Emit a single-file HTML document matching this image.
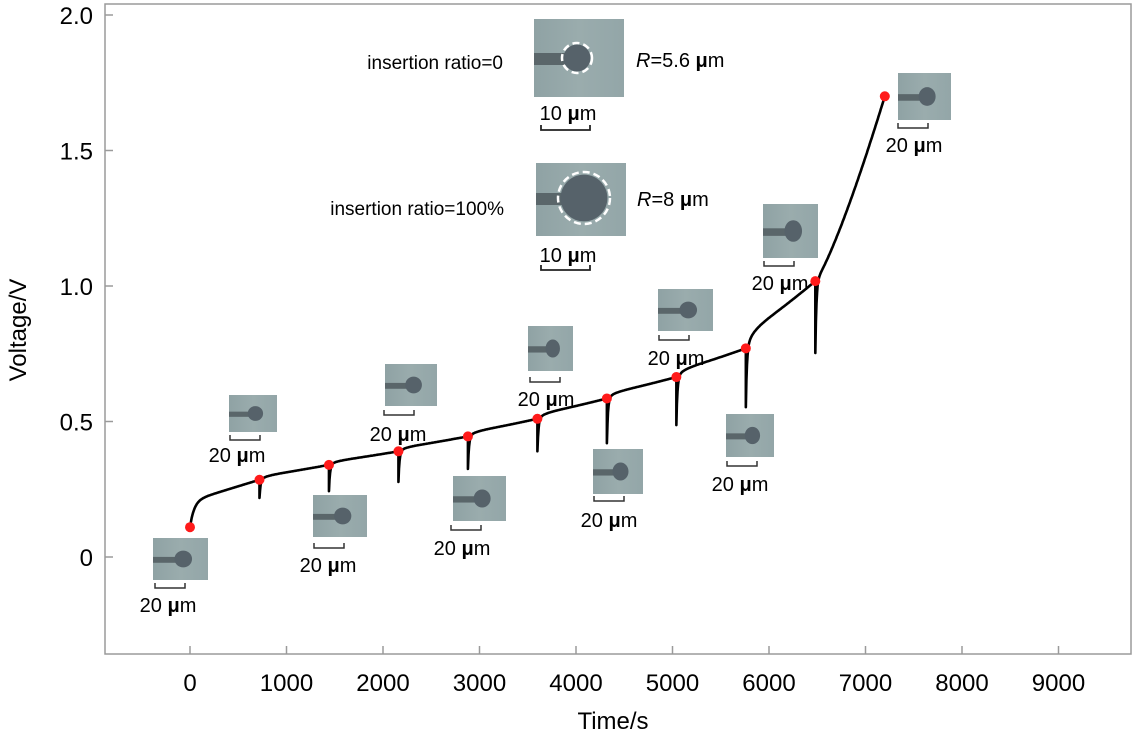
<!DOCTYPE html>
<html><head><meta charset="utf-8"><style>
html,body{margin:0;padding:0;background:#fff;}
svg{display:block;font-family:"Liberation Sans",sans-serif;}
</style></head><body>
<svg id="chart" width="1135" height="735" viewBox="0 0 1135 735">
<defs>
<linearGradient id="micro" x1="0" y1="0" x2="1" y2="0">
<stop offset="0" stop-color="#8fa2a4"/><stop offset="0.5" stop-color="#9aacad"/><stop offset="1" stop-color="#93a6a8"/>
</linearGradient>
</defs>
<rect x="105" y="4" width="1026" height="650" fill="none" stroke="#9a9a9a" stroke-width="1.5"/>
<g id="axes"></g>
<g id="images"></g>
<path id="curve" fill="none" stroke="#000" stroke-width="2.6" stroke-linejoin="round"/>
<g id="points"></g>
<text x="613" y="729" font-size="24" text-anchor="middle">Time/s</text>
<text transform="translate(26,330) rotate(-90)" font-size="24" text-anchor="middle">Voltage/V</text>
<text x="503" y="69" font-size="19" text-anchor="end">insertion ratio=0</text>
<text x="636" y="67" font-size="20"><tspan font-style="italic">R</tspan>=5.6 <tspan font-weight="bold">μ</tspan>m</text>
<text x="504" y="215" font-size="19" text-anchor="end">insertion ratio=100%</text>
<text x="637" y="206" font-size="20"><tspan font-style="italic">R</tspan>=8 <tspan font-weight="bold">μ</tspan>m</text>
</svg>
<script>
const xTicks=[0,1000,2000,3000,4000,5000,6000,7000,8000,9000];
const yTicks=[0,0.5,1.0,1.5,2.0];
const yTickLabels=["0","0.5","1.0","1.5","2.0"];
const pointTimes=[0,720,1440,2160,2880,3600,4320,5040,5760,6480,7200];
const pointVolts=[0.11,0.285,0.34,0.39,0.445,0.51,0.585,0.664,0.77,1.018,1.70];
const dipVolts=[0.218,0.243,0.277,0.325,0.39,0.42,0.487,0.553,0.753];
const NS="http://www.w3.org/2000/svg";
const X=t=>190+t*0.0965;
const Y=v=>557-v*271;
function mk(tag,attrs,parent){const e=document.createElementNS(NS,tag);for(const k in attrs)e.setAttribute(k,attrs[k]);parent.appendChild(e);return e;}
const axes=document.getElementById('axes');
xTicks.forEach((t,i)=>{
 const l=mk('line',{x1:X(t),x2:X(t),y1:654,y2:646,stroke:'#9a9a9a','stroke-width':1.5},axes);
 
 
 const tx=mk('text',{x:X(t),y:691,'font-size':24,'text-anchor':'middle'},axes);
 tx.textContent=t;
 
 
});
yTicks.forEach((v,i)=>{
 const l=mk('line',{x1:105,x2:113,y1:Y(v),y2:Y(v),stroke:'#9a9a9a','stroke-width':1.5},axes);
 
 
 const tx=mk('text',{x:93,y:Y(v)+9,'font-size':24,'text-anchor':'end'},axes);
 tx.textContent=yTickLabels[i];
 
 
});
let d='';
for(let s=0;s<pointTimes.length-1;s++){
 const t0=pointTimes[s],t1=pointTimes[s+1],a=pointVolts[s],b=pointVolts[s+1];
 const dip=s===0?null:dipVolts[s-1];
 if(s===0){d+='M'+X(t0)+','+Y(a);}
 else{d+='M'+X(t0)+','+Y(a)+'L'+X(t0)+','+Y(dip);}
 for(let k=1;k<=120;k++){
  const u=k/120;
  let f;
  if(s===0) f=0.55*(1-Math.exp(-u/0.06))+0.45*u;
  else if(s===pointTimes.length-2) f=0.75*Math.pow(u,1.3)+0.25*u;
  else f=0.25*(1-Math.exp(-u/0.1))+0.75*Math.pow(u,1.15);
  let v=a+(b-a)*f;
  if(dip!==null) v-=(a-dip)*Math.exp(-u/0.015);
  const xx=X(t0)+(X(t1)-X(t0))*u;
  d+='L'+xx.toFixed(1)+','+Y(v).toFixed(1);
 }
}
document.getElementById('curve').setAttribute('d',d);
const pts=document.getElementById('points');
pointTimes.forEach((t,i)=>{
 const c=mk('circle',{cx:X(t),cy:Y(pointVolts[i]),r:5,fill:'#ff1a1a'},pts);
 
 
});
const imgs=[[153,538,55,42,155,588,168,612],[229,395,48,37,230,440,237,462],[313,495,54,42,314,548,328,572],[385,364,52,42,384,415,398,441],[453,476,53,45,451,530,462,555],[528,326,45,45,530,382,546,406],[593,449,50,45,594,501,609,527],[658,289,55,42,659,340,676,365],[726,414,48,43,727,466,740,491],[763,204,55,54,764,266,780,290],[898,73,53,47,898,128,914,152]];
const ig=document.getElementById('images');
imgs.forEach(m=>{
 const g=mk('g',{},ig);
 
 
 mk('rect',{x:m[0],y:m[1],width:m[2],height:m[3],fill:'url(#micro)'},g);
 mk('rect',{x:m[0],y:m[1]+m[3]*0.45,width:m[2]*0.45,height:m[3]*0.14,fill:'#5a666a'},g);
 mk('ellipse',{cx:m[0]+m[2]*0.55,cy:m[1]+m[3]*0.5,rx:m[2]*0.16,ry:m[3]*0.2,fill:'#56626a'},g);
 mk('path',{d:`M${m[4]},${m[5]-5}V${m[5]}H${m[4]+30}V${m[5]-5}`,fill:'none',stroke:'#333','stroke-width':1.5},g);
 const t=mk('text',{x:m[6],y:m[7],'font-size':20,'text-anchor':'middle'},g);
 t.innerHTML='20 <tspan font-weight="bold">μ</tspan>m';
});
[[534,19,90,78,577,58,15,568,120,541,130],[536,163,90,73,584,198,26,568,262,541,270]].forEach(m=>{
 const g=mk('g',{},ig);
 
 
 mk('rect',{x:m[0],y:m[1],width:m[2],height:m[3],fill:'url(#micro)'},g);
 mk('rect',{x:m[0],y:m[5]-5,width:m[4]-m[0]-m[6]+4,height:12,fill:'#5a666a'},g);
 mk('circle',{cx:m[4],cy:m[5],r:m[6]*0.9,fill:'#56626a'},g);
 mk('circle',{cx:m[4],cy:m[5],r:m[6],fill:'none',stroke:'#fff','stroke-width':2.5,'stroke-dasharray':'7 4'},g);
 const t=mk('text',{x:m[7],y:m[8],'font-size':20,'text-anchor':'middle'},g);
 t.innerHTML='10 <tspan font-weight="bold">μ</tspan>m';
 mk('path',{d:`M${m[9]},${m[10]-5}V${m[10]}H${m[9]+49}V${m[10]-5}`,fill:'none',stroke:'#222','stroke-width':1.8},g);
});
</script>
</body></html>
